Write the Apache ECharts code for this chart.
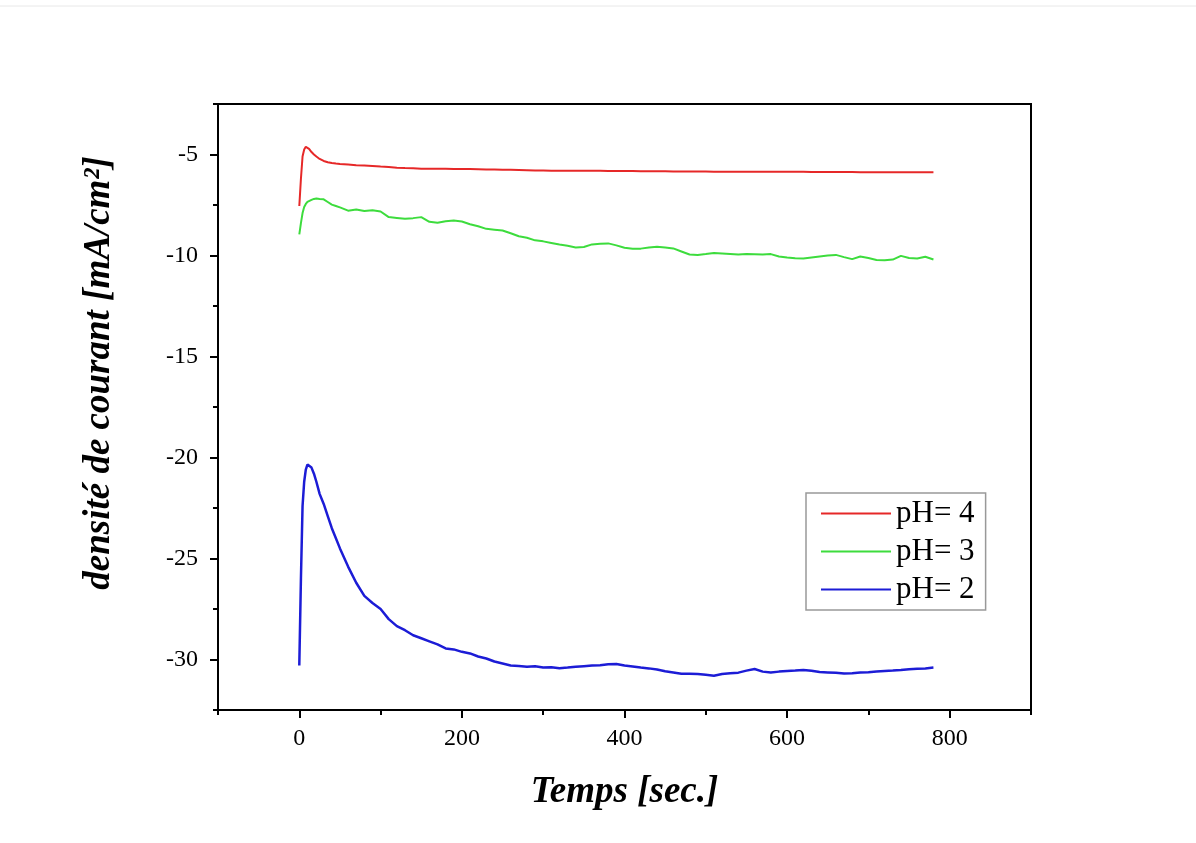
<!DOCTYPE html>
<html>
<head>
<meta charset="utf-8">
<script src="https://cdn.jsdelivr.net/npm/echarts@6/dist/echarts.min.js"></script>
<style>
html,body{margin:0;padding:0;background:#fff;}
#chart{width:1196px;height:843px;}
</style>
</head>
<body>
<div id="chart"></div>
<script>
// time (sec.)
var time = [0,2,4,6,8,10,12,15,18,21,25,30,35,40,45,50,60,70,80,90,100,110,120,130,140,150,160,170,180,190,200,210,220,230,240,250,260,270,280,290,300,310,320,330,340,350,360,370,380,390,400,410,420,430,440,450,460,470,480,490,500,510,520,530,540,550,560,570,580,590,600,610,620,630,640,650,660,670,680,690,700,710,720,730,740,750,760,770,780];
// pH = 4
var ph4 = [-7.55,-6.2,-5.1,-4.75,-4.62,-4.65,-4.72,-4.88,-5.0,-5.1,-5.22,-5.32,-5.38,-5.42,-5.45,-5.47,-5.5,-5.53,-5.55,-5.57,-5.6,-5.62,-5.65,-5.67,-5.68,-5.7,-5.7,-5.71,-5.71,-5.72,-5.72,-5.72,-5.73,-5.74,-5.74,-5.75,-5.76,-5.77,-5.78,-5.79,-5.79,-5.8,-5.8,-5.8,-5.81,-5.81,-5.81,-5.81,-5.82,-5.82,-5.82,-5.82,-5.83,-5.83,-5.83,-5.83,-5.84,-5.84,-5.84,-5.84,-5.84,-5.85,-5.85,-5.85,-5.85,-5.85,-5.85,-5.86,-5.86,-5.86,-5.86,-5.86,-5.86,-5.87,-5.87,-5.87,-5.87,-5.87,-5.87,-5.88,-5.88,-5.88,-5.88,-5.88,-5.88,-5.88,-5.88,-5.88,-5.88];
// pH = 3
var ph3 = [-8.95,-8.4,-7.9,-7.6,-7.45,-7.35,-7.3,-7.25,-7.2,-7.18,-7.2,-7.22,-7.35,-7.48,-7.55,-7.62,-7.78,-7.72,-7.8,-7.76,-7.82,-8.1,-8.14,-8.18,-8.15,-8.1,-8.33,-8.38,-8.3,-8.27,-8.32,-8.45,-8.55,-8.68,-8.72,-8.76,-8.9,-9.05,-9.12,-9.25,-9.3,-9.38,-9.46,-9.52,-9.6,-9.58,-9.45,-9.42,-9.4,-9.5,-9.62,-9.66,-9.66,-9.6,-9.57,-9.6,-9.65,-9.8,-9.95,-9.97,-9.93,-9.88,-9.9,-9.92,-9.95,-9.93,-9.94,-9.95,-9.93,-10.05,-10.1,-10.14,-10.15,-10.1,-10.05,-10.0,-9.97,-10.08,-10.18,-10.05,-10.12,-10.22,-10.24,-10.2,-10.02,-10.12,-10.15,-10.06,-10.2];
// pH = 2
var ph2 = [-30.3,-26.0,-22.4,-21.2,-20.6,-20.35,-20.35,-20.5,-20.8,-21.2,-21.8,-22.3,-22.9,-23.5,-24.0,-24.5,-25.4,-26.2,-26.85,-27.2,-27.5,-28.0,-28.35,-28.55,-28.8,-28.95,-29.1,-29.25,-29.45,-29.5,-29.62,-29.7,-29.85,-29.95,-30.1,-30.2,-30.3,-30.32,-30.36,-30.33,-30.4,-30.38,-30.43,-30.4,-30.36,-30.33,-30.3,-30.28,-30.24,-30.22,-30.3,-30.35,-30.4,-30.44,-30.5,-30.58,-30.64,-30.7,-30.7,-30.72,-30.76,-30.8,-30.72,-30.68,-30.65,-30.55,-30.47,-30.6,-30.64,-30.6,-30.57,-30.55,-30.52,-30.56,-30.62,-30.64,-30.66,-30.69,-30.68,-30.64,-30.63,-30.6,-30.57,-30.55,-30.52,-30.48,-30.46,-30.44,-30.4];

var seriesNames = ['pH= 4','pH= 3','pH= 2'];
var xMajor = [0,200,400,600,800];
var xMinor = [-100,100,300,500,700,900];
var yMajor = [-30,-25,-20,-15,-10,-5];
var yMinor = [-32.5,-27.5,-22.5,-17.5,-12.5,-7.5,-2.5];

var serif = 'Liberation Serif';
var chart = echarts.init(document.getElementById('chart'), null, {renderer:'canvas'});

function pairs(arr){ return time.map(function(t,i){ return [t, arr[i]]; }); }

var option = {
  animation: false,
  backgroundColor: '#fff',
  graphic: [{
    type: 'line', shape: {x1: 0, y1: 6, x2: 1196, y2: 6},
    style: {stroke: '#e8e8e8', lineWidth: 1}, silent: true
  }],
  grid: {left: 218, right: 165, top: 104, bottom: 133, show: true, borderColor: '#000', borderWidth: 2, backgroundColor: 'transparent'},
  legend: {
    orient: 'vertical', left: 806, top: 493,
    padding: [5, 11, 5, 15],
    itemWidth: 70, itemHeight: 2, itemGap: 7,
    icon: 'rect',
    borderColor: '#999', borderWidth: 1.5,
    textStyle: {fontFamily: serif, fontSize: 31, color: '#000', lineHeight: 29},
    data: seriesNames
  },
  xAxis: [{
    type: 'value', min: -100, max: 900,
    name: 'Temps [sec.]', nameLocation: 'middle', nameGap: 64,
    nameTextStyle: {fontFamily: serif, fontSize: 37, fontWeight: 'bold', fontStyle: 'italic', color: '#000'},
    axisLine: {show: true, onZero: false, lineStyle: {color: '#000', width: 2}},
    axisTick: {show: true, length: 8, lineStyle: {color: '#000', width: 2}, customValues: xMajor},
    axisLabel: {fontFamily: serif, fontSize: 24, color: '#000', margin: 17, customValues: xMajor},
    splitLine: {show: false}
  }, {
    type: 'value', min: -100, max: 900, position: 'bottom',
    axisLine: {show: false, onZero: false},
    axisTick: {show: true, length: 5, lineStyle: {color: '#000', width: 2}, customValues: xMinor},
    axisLabel: {show: false},
    splitLine: {show: false}
  }],
  yAxis: [{
    type: 'value', min: -32.5, max: -2.5,
    name: 'densité de courant [mA/cm²]', nameLocation: 'middle', nameGap: 100,
    nameTextStyle: {fontFamily: serif, fontSize: 37, fontWeight: 'bold', fontStyle: 'italic', color: '#000', padding: [0, 0, 0, 68]},
    axisLine: {show: true, onZero: false, lineStyle: {color: '#000', width: 2}},
    axisTick: {show: true, length: 8, lineStyle: {color: '#000', width: 2}, customValues: yMajor},
    axisLabel: {fontFamily: serif, fontSize: 24, color: '#000', margin: 20, customValues: yMajor},
    splitLine: {show: false}
  }, {
    type: 'value', min: -32.5, max: -2.5, position: 'left',
    axisLine: {show: false, onZero: false},
    axisTick: {show: true, length: 5, lineStyle: {color: '#000', width: 2}, customValues: yMinor},
    axisLabel: {show: false},
    splitLine: {show: false}
  }],
  series: [
    {name: seriesNames[0], type: 'line', data: pairs(ph4), showSymbol: false, symbol: 'none', color: '#e62828', lineStyle: {width: 2}},
    {name: seriesNames[1], type: 'line', data: pairs(ph3), showSymbol: false, symbol: 'none', color: '#3ddc3d', lineStyle: {width: 2}},
    {name: seriesNames[2], type: 'line', data: pairs(ph2), showSymbol: false, symbol: 'none', color: '#1c1cd6', lineStyle: {width: 2.5}}
  ]
};
chart.setOption(option);
</script>
</body>
</html>
